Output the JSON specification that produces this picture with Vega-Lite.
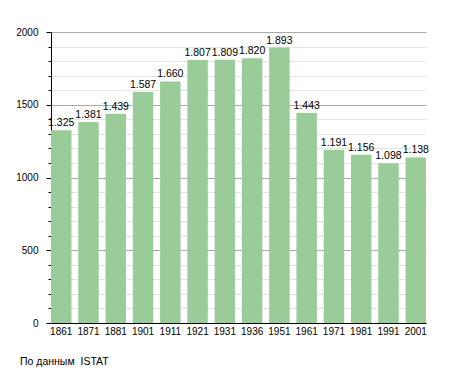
{
  "$schema": "https://vega.github.io/schema/vega-lite/v6.json",
  "width": 375,
  "height": 291,
  "autosize": {"type": "none"},
  "padding": {"left": 51, "top": 32, "right": 29, "bottom": 50},
  "background": "white",
  "config": {
    "view": {"stroke": null},
    "font": "Liberation Sans",
    "locale": {"number": {"decimal": ",", "thousands": ".", "grouping": [3], "currency": ["", ""]}}
  },
  "title": {
    "text": "По данным\u00a0\u00a0ISTAT",
    "orient": "bottom",
    "anchor": "start",
    "frame": "group",
    "dx": -31,
    "offset": 21,
    "fontSize": 10.5,
    "fontWeight": "normal",
    "font": "Liberation Sans",
    "color": "#000"
  },
  "data": {
    "values": [
      {"year": "1861", "pop": 1325},
      {"year": "1871", "pop": 1381},
      {"year": "1881", "pop": 1439},
      {"year": "1901", "pop": 1587},
      {"year": "1911", "pop": 1660},
      {"year": "1921", "pop": 1807},
      {"year": "1931", "pop": 1809},
      {"year": "1936", "pop": 1820},
      {"year": "1951", "pop": 1893},
      {"year": "1961", "pop": 1443},
      {"year": "1971", "pop": 1191},
      {"year": "1981", "pop": 1156},
      {"year": "1991", "pop": 1098},
      {"year": "2001", "pop": 1138}
    ]
  },
  "encoding": {
    "x": {
      "field": "year",
      "type": "nominal",
      "sort": null,
      "scale": {"paddingInner": 0.25, "paddingOuter": 0},
      "axis": {
        "title": null,
        "labelAngle": 0,
        "ticks": false,
        "labelPadding": 3,
        "labelFontSize": 10,
        "labelColor": "#000",
        "domainColor": "#000",
        "domainWidth": 1,
        "zindex": 1
      }
    },
    "y": {
      "field": "pop",
      "type": "quantitative",
      "scale": {"domain": [0, 2000], "nice": false},
      "axis": {
        "title": null,
        "values": [0,100,200,300,400,500,600,700,800,900,1000,1100,1200,1300,1400,1500,1600,1700,1800,1900,2000],
        "labelExpr": "datum.value % 500 === 0 ? datum.value : ''",
        "labelFontSize": 10,
        "labelColor": "#000",
        "labelPadding": 8,
        "tickSize": {"condition": {"test": "datum.value % 500 === 0", "value": 5}, "value": 3},
        "tickColor": "#000",
        "domainColor": "#000",
        "gridColor": {"condition": {"test": "datum.value % 500 === 0", "value": "#aaaaaa"}, "value": "#e4e4e4"},
        "gridWidth": 1,
        "zindex": 0
      }
    }
  },
  "layer": [
    {"mark": {"type": "bar", "color": "#99cc99", "opacity": 1, "fillOpacity": 1}},
    {
      "mark": {"type": "text", "baseline": "bottom", "dy": -2, "fontSize": 10.5, "color": "#000", "font": "Liberation Sans"},
      "encoding": {"text": {"field": "pop", "type": "quantitative", "format": ",d"}}
    }
  ]
}
